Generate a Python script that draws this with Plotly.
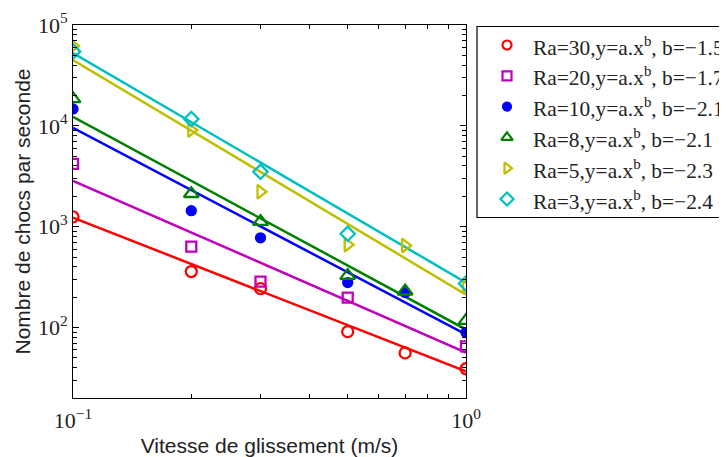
import plotly.graph_objects as go

# ---- data ----
x_all = [0.1, 0.2, 0.3, 0.5, 0.7, 1.0]
x_no07 = [0.1, 0.2, 0.3, 0.5, 1.0]

ra30_y = [1250, 359, 243, 91, 56, 39]
ra20_y = [4200, 634, 285, 198, 65]
ra10_y = [14700, 1440, 776, 279, 222, 89]
ra8_y = [18500, 2120, 1120, 327, 229, 117]
ra5_y = [62000, 9100, 2220, 662, 650, 257]
ra3_y = [54500, 11700, 3500, 850, 273]

# fitted power-law lines: values read at the ends x=0.1 and x=1
fit_x = [0.1, 1.0]
ra30_fit = [1227, 36.7]
ra20_fit = [2852, 56.5]
ra10_fit = [9550, 85.3]
ra8_fit = [12280, 95.5]
ra5_fit = [45000, 212]
ra3_fit = [52800, 279]

labels = [
    "Ra=30,y=a.x<sup>b</sup>, b=\u22121.5",
    "Ra=20,y=a.x<sup>b</sup>, b=\u22121.7",
    "Ra=10,y=a.x<sup>b</sup>, b=\u22122.1",
    "Ra=8,y=a.x<sup>b</sup>, b=\u22122.1",
    "Ra=5,y=a.x<sup>b</sup>, b=\u22122.3",
    "Ra=3,y=a.x<sup>b</sup>, b=\u22122.4",
]

x_tickvals = [0.1, 1]
x_ticktext = ["10<sup>\u22121</sup>", "10<sup>0</sup>"]
y_tickvals = [100, 1000, 10000, 100000]
y_ticktext = ["10<sup>2</sup>", "10<sup>3</sup>", "10<sup>4</sup>", "10<sup>5</sup>"]

colors = ["#ff0000", "#bf00bf", "#0000ff", "#008000", "#bfbf00", "#00bfbf"]
symbols = ["circle-open", "square-open", "circle", "triangle-up-open",
           "triangle-right-open", "diamond-open"]
sizes = [11, 10, 9, 13, 12, 11]
leg_sizes = [9, 9, 8, 10, 10, 10]

series = [
    (x_all, ra30_y, ra30_fit),
    (x_no07, ra20_y, ra20_fit),
    (x_all, ra10_y, ra10_fit),
    (x_all, ra8_y, ra8_fit),
    (x_all, ra5_y, ra5_fit),
    (x_no07, ra3_y, ra3_fit),
]

# The page body has an 8px default margin: lay out in window pixels minus it.
OFF = 8
WIN_W, WIN_H = 727, 457
W, H = WIN_W - OFF, WIN_H - OFF
ML, MT = 73 - OFF, 25 - OFF
PLOT_R, PLOT_B = 466 - OFF, 398 - OFF
MB = H - PLOT_B
paper_w = W - ML
main_frac = (PLOT_R - ML) / paper_w

fig = go.Figure()

for i, (xs, ys, fit) in enumerate(series):
    fig.add_trace(go.Scatter(
        x=fit_x, y=fit, mode="lines",
        line=dict(color=colors[i], width=2.5),
        showlegend=False, hoverinfo="skip"))

for i, (xs, ys, fit) in enumerate(series):
    fig.add_trace(go.Scatter(
        x=xs, y=ys, mode="markers", name=labels[i], showlegend=False,
        marker=dict(symbol=symbols[i], size=sizes[i], color=colors[i],
                    line=dict(color=colors[i], width=2.3))))

# ---- hand-made legend in a pixel-coordinate overlay (x2/y2) ----
LEG_X0, LEG_Y0, LEG_Y1 = 477 - OFF, 26.5 - OFF, 217.5 - OFF
ROW0, ROW_STEP = 45 - OFF, 30.8
MARK_X, TEXT_X = 507 - OFF, 531 - OFF

fig.add_shape(type="rect", xref="x2", yref="y2",
              x0=LEG_X0, x1=W + 40, y0=LEG_Y0, y1=LEG_Y1,
              line=dict(color="black", width=1.2), fillcolor="white",
              layer="below")

serif = "Liberation Serif, Times New Roman, serif"
sans = "Liberation Sans, Arial, sans-serif"

for i in range(len(labels)):
    yrow = ROW0 + i * ROW_STEP
    fig.add_trace(go.Scatter(
        x=[MARK_X], y=[yrow], xaxis="x2", yaxis="y2", mode="markers",
        showlegend=False, hoverinfo="skip",
        marker=dict(symbol=symbols[i], size=leg_sizes[i], color=colors[i],
                    line=dict(color=colors[i], width=2.2))))
    fig.add_annotation(x=TEXT_X, y=yrow + 1, xref="x2", yref="y2",
                       text=labels[i], showarrow=False,
                       xanchor="left", yanchor="middle",
                       font=dict(family=serif, size=21.4, color="#222"))

axis_common = dict(
    type="log", showgrid=False,
    zeroline=False, ticks="inside", ticklen=6, tickcolor="black",
    mirror="allticks", showline=True, linecolor="black", linewidth=1,
    minor=dict(ticks="inside", ticklen=4, dtick="D1", showgrid=False,
               tickcolor="black"),
    tickfont=dict(family=serif, size=22, color="#222"),
)

fig.update_layout(
    xaxis=dict(**axis_common, range=[-1, 0], domain=[0, main_frac],
               tickvals=x_tickvals, ticktext=x_ticktext,
               ticklabelstandoff=3,
               title=dict(text="Vitesse de glissement (m/s)",
                          font=dict(family=sans, size=21, color="#222"),
                          standoff=10)),
    yaxis=dict(**axis_common, range=[1.30103, 5],
               tickvals=y_tickvals, ticktext=y_ticktext,
               title=dict(text="Nombre de chocs par seconde",
                          font=dict(family=sans, size=21, color="#222"),
                          standoff=1)),
    xaxis2=dict(domain=[main_frac, 1], range=[PLOT_R, W], anchor="y2",
                visible=False, fixedrange=True),
    yaxis2=dict(domain=[0, 1], range=[PLOT_B, MT], anchor="x2",
                visible=False, fixedrange=True),
    width=W, height=H,
    margin=dict(l=ML, r=0, t=MT, b=MB, autoexpand=False),
    paper_bgcolor="white", plot_bgcolor="white",
    showlegend=False,
)

fig.write_html("out.html")
